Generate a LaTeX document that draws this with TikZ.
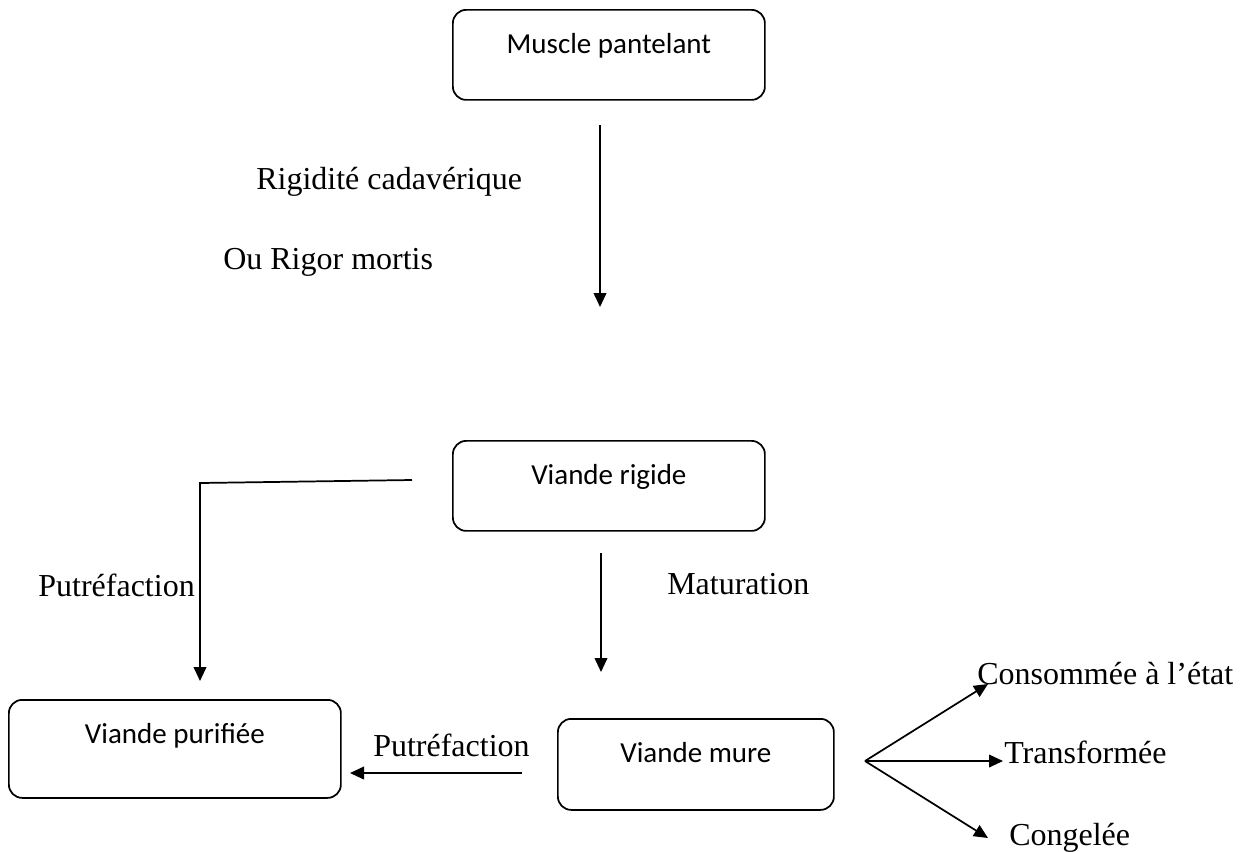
\documentclass[tikz,border=0pt]{standalone}
\usepackage{fontspec}
\setmainfont{Liberation Serif}
\newfontfamily\boxfont{Carlito}
\usetikzlibrary{arrows.meta,calc}
\begin{document}
\begin{tikzpicture}[x=0.75pt,y=-0.75pt,
  box/.style={draw, line width=1.3pt, rounded corners=10pt, anchor=north west,
    inner xsep=0pt, inner ysep=0pt, text height=33pt,
    font=\boxfont\fontsize{21.75}{26}\selectfont},
  lbl/.style={inner sep=0pt, font=\fontsize{24}{28}\selectfont},
  arr/.style={line width=1.3pt, -{Triangle[length=10.5pt,width=9.5pt]}},
  ln/.style={line width=1.3pt}]
\useasboundingbox (0,0) rectangle (1244,851);

% boxes
\node[box, minimum width=234pt, text depth=34.5pt] (m) at (452,9) {Muscle pantelant};
\node[box, minimum width=234pt, text depth=34.5pt] (r) at (452,440) {Viande rigide};
\node[box, minimum width=249pt, text depth=40.5pt] (p) at (8,699) {Viande purifiée};
\node[box, minimum width=207pt, text depth=35.25pt] (u) at (557,718) {Viande mure};

% labels
\node[lbl, anchor=base west] (l1) at (256,189) {Rigidité cadavérique};
\node[lbl, anchor=base west] (l2) at (223,269) {Ou Rigor mortis};
\node[lbl, anchor=base east] (l3) at (195,596) {Putréfaction};
\node[lbl, anchor=base west] (l4) at (667,594) {Maturation};
\node[lbl, anchor=base west] (l5) at (373,756) {Putréfaction};
\node[lbl, anchor=base west] (c1) at (977,684) {Consommée à l’état};
\node[lbl, anchor=base west] (c2) at (1004,763) {Transformée};
\node[lbl, anchor=base west] (c3) at (1009,845) {Congelée};

% connector end points
\coordinate (a1s) at (600,125);
\coordinate (a1e) at (600,307);
\coordinate (a2s) at (601,553);
\coordinate (a2e) at (601,672);
\coordinate (b1) at (412,480);
\coordinate (b2) at (200,483);
\coordinate (b3) at (200,681);
\coordinate (ms) at (522,773);
\coordinate (me) at (350,773);
\coordinate (f0) at (865,761);
\coordinate (f1) at (988,684);
\coordinate (f2) at (1003,761);
\coordinate (f3) at (988,838);

% connectors
\draw[arr] (a1s) -- (a1e);
\draw[arr] (a2s) -- (a2e);
\draw[arr] (b1) -- (b2) -- (b3);
\draw[arr] (ms) -- (me);
\draw[arr] (f0) -- (f1);
\draw[arr] (f0) -- (f2);
\draw[arr] (f0) -- (f3);
\end{tikzpicture}
\end{document}
